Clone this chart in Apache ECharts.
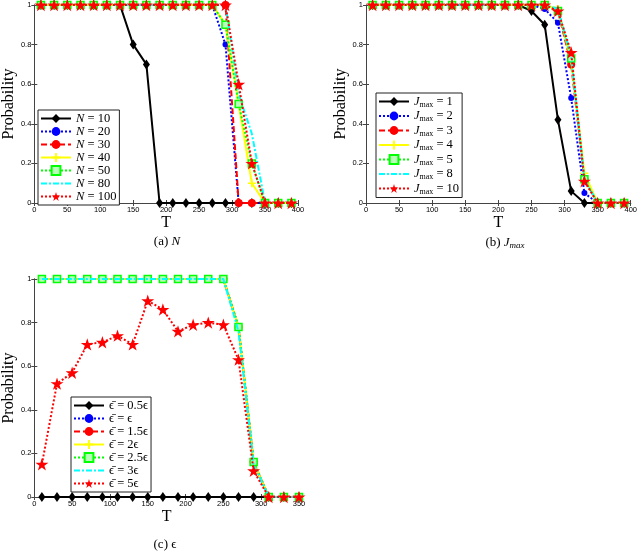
<!DOCTYPE html>
<html><head><meta charset="utf-8">
<script src="https://cdn.jsdelivr.net/npm/echarts@6/dist/echarts.min.js"></script>
<style>html,body{margin:0;padding:0;background:#fff}#c{width:640px;height:553px}</style>
</head><body><div id="c"></div>
<script>
// ---------- data ----------
const T_ab = [10,30,50,70,90,110,130,150,170,190,210,230,250,270,290,310,330,350,370,390];
const T_c  = [10,30,50,70,90,110,130,150,170,190,210,230,250,270,290,310,330,350];
const xTicksAB = [0,50,100,150,200,250,300,350,400];
const xTicksC  = [0,50,100,150,200,250,300,350];
const yTicks   = [0,0.2,0.4,0.6,0.8,1];

// (a) N
const namesA = ['N = 10','N = 20','N = 30','N = 40','N = 50','N = 80','N = 100'];
const a_N10  = [1,1,1,1,1,1,1,0.8,0.7,0,0,0,0,0,0,0,0,0,0,0];
const a_N20  = [1,1,1,1,1,1,1,1,1,1,1,1,1,1,0.8,0,0,0,0,0];
const a_N30  = [1,1,1,1,1,1,1,1,1,1,1,1,1,1,1,0,0,0,0,0];
const a_N40  = [1,1,1,1,1,1,1,1,1,1,1,1,1,1,0.9,0.5,0.1,0,0,0];
const a_N50  = [1,1,1,1,1,1,1,1,1,1,1,1,1,1,0.9,0.5,0.2,0,0,0];
const a_N80  = [1,1,1,1,1,1,1,1,1,1,1,1,1,1,1,0.55,0.35,0,0,0];
const a_N100 = [1,1,1,1,1,1,1,1,1,1,1,1,1,1,1,0.6,0.2,0,0,0];

// (b) Jmax
const namesB = ['Jmax = 1','Jmax = 2','Jmax = 3','Jmax = 4','Jmax = 5','Jmax = 8','Jmax = 10'];
const b_J1  = [1,1,1,1,1,1,1,1,1,1,1,1,0.97,0.9,0.42,0.06,0,0,0,0];
const b_J2  = [1,1,1,1,1,1,1,1,1,1,1,1,1,0.98,0.91,0.53,0.05,0,0,0];
const b_J3  = [1,1,1,1,1,1,1,1,1,1,1,1,1,1,0.97,0.70,0.12,0,0,0];
const b_J4  = [1,1,1,1,1,1,1,1,1,1,1,1,1,1,0.98,0.72,0.15,0,0,0];
const b_J5  = [1,1,1,1,1,1,1,1,1,1,1,1,1,1,0.97,0.73,0.12,0,0,0];
const b_J8  = [1,1,1,1,1,1,1,1,1,1,1,1,1,1,0.98,0.74,0.12,0,0,0];
const b_J10 = [1,1,1,1,1,1,1,1,1,1,1,1,1,1,0.97,0.76,0.11,0,0,0];

// (c) epsilon
const namesC = ['e = 0.5','e = 1','e = 1.5','e = 2','e = 2.5','e = 3','e = 5'];
const c_e05 = [0,0,0,0,0,0,0,0,0,0,0,0,0,0,0,0,0,0];
const c_e1  = [1,1,1,1,1,1,1,1,1,1,1,1,1,0.78,0.16,0,0,0];
const c_e15 = [1,1,1,1,1,1,1,1,1,1,1,1,1,0.78,0.16,0,0,0];
const c_e2  = [1,1,1,1,1,1,1,1,1,1,1,1,1,0.78,0.16,0,0,0];
const c_e25 = [1,1,1,1,1,1,1,1,1,1,1,1,1,0.78,0.16,0,0,0];
const c_e3  = [1,1,1,1,1,1,1,1,1,1,1,1,1,0.76,0.15,0,0,0];
const c_e5  = [0.15,0.52,0.57,0.70,0.71,0.74,0.70,0.90,0.86,0.76,0.79,0.80,0.79,0.63,0.12,0,0,0];

// ---------- styles ----------
const PLUS = 'path://M4,0H6V4H10V6H6V10H4V6H0V4H4Z';
const STAR = 'path://M50,0L61.8,36.2L100,36.2L69.1,58.8L80.9,95.1L50,72.7L19.1,95.1L30.9,58.8L0,36.2L38.2,36.2Z';
const styles = [
  {color:'#000000', dash:'solid', symbol:'diamond', size:[7,10]},
  {color:'#0000ff', dash:[2,2], symbol:'circle', size:6},
  {color:'#ff0000', dash:[6,3], symbol:'circle', size:8},
  {color:'#ffff00', dash:'solid', symbol:PLUS, size:8},
  {color:'#00ff00', dash:[2,2], symbol:'rect', size:7, fill:'#b8ffb8'},
  {color:'#00ffff', dash:[6,2,2,2], symbol:'none', size:0},
  {color:'#ff0000', dash:[2,2], symbol:STAR, size:13}
];

const SERIF = '"Liberation Serif","DejaVu Serif",serif';
const SANS = '"Liberation Sans",Arial,sans-serif';

function mkSeries(names, xs, arrs, gi) {
  return arrs.map((vals, k) => {
    const s = styles[k];
    return {
      name: names[k], type: 'line', xAxisIndex: gi*2, yAxisIndex: gi*2,
      data: xs.map((t, i) => [t, vals[i]]),
      symbol: s.symbol, symbolSize: s.size, symbolKeepAspect: true,
      showSymbol: s.symbol !== 'none',
      lineStyle: {color: s.color, width: 2, type: s.dash},
      itemStyle: {color: s.fill || s.color, borderColor: s.color, borderWidth: s.fill ? 1.5 : 0},
      emphasis: {disabled: true}, animation: false, z: 2 + k
    };
  });
}

const grids = [
  {left: 31, top: 5, width: 267, height: 198},
  {left: 366, top: 5, width: 267, height: 198},
  {left: 31, top: 279, width: 268, height: 218}
];

const axisLineS = {show: true, lineStyle: {color: '#444', width: 1}};
const tickS = {show: true, inside: true, length: 3, lineStyle: {color: '#444'}};
const xAxes = [], yAxes = [];
[xTicksAB, xTicksAB, xTicksC].forEach((xt, gi) => {
  const xmin = xt[0], xmax = xt[xt.length-1];
  xAxes.push({type:'value', gridIndex: gi, min: xmin, max: xmax, interval: 50, position:'bottom',
    axisLine: axisLineS, axisTick: tickS, splitLine:{show:false},
    axisLabel:{fontSize: 7.5, fontFamily: SANS, color:'#000', margin: 3},
    name: 'T', nameLocation: 'middle', nameGap: 8,
    nameTextStyle: {fontFamily: SERIF, fontSize: 16, color: '#000', verticalAlign: 'top'}});
  xAxes.push({type:'value', gridIndex: gi, min: xmin, max: xmax, interval: 50, position:'top',
    axisLine: axisLineS, axisTick: tickS, splitLine:{show:false}, axisLabel:{show:false}});
  yAxes.push({type:'value', gridIndex: gi, min: yTicks[0], max: yTicks[yTicks.length-1], interval: 0.2, position:'left',
    axisLine: axisLineS, axisTick: tickS, splitLine:{show:false},
    axisLabel:{fontSize: 7.5, fontFamily: SANS, color:'#000', margin: 3},
    name: 'Probability', nameLocation: 'middle', nameGap: 15,
    nameTextStyle: {fontFamily: SERIF, fontSize: 16, color: '#000'}});
  yAxes.push({type:'value', gridIndex: gi, min: yTicks[0], max: yTicks[yTicks.length-1], interval: 0.2, position:'right',
    axisLine: axisLineS, axisTick: tickS, splitLine:{show:false}, axisLabel:{show:false}});
});

const series = [].concat(
  mkSeries(namesA, T_ab, [a_N10,a_N20,a_N30,a_N40,a_N50,a_N80,a_N100], 0),
  mkSeries(namesB, T_ab, [b_J1,b_J2,b_J3,b_J4,b_J5,b_J8,b_J10], 1),
  mkSeries(namesC, T_c,  [c_e05,c_e1,c_e15,c_e2,c_e25,c_e3,c_e5], 2)
);

const EPS = '\u03F5';
const EPSBAR = '\u03F5\u0304';
function legendFmt(name) {
  if (name.startsWith('N')) return '{i|N} = ' + name.split('= ')[1];
  if (name.startsWith('Jmax')) return '{i|J}{s|max} = ' + name.split('= ')[1];
  const v = name.split('= ')[1];
  return EPSBAR + ' = ' + (v === '1' ? '' : v) + EPS;
}
const richS = {
  i: {fontStyle: 'italic', fontFamily: SERIF, fontSize: 12.5, color: '#000'},
  s: {fontFamily: SERIF, fontSize: 8, color: '#000', padding: [6,0,0,0]}
};
function mkLegend(names, left, top, gap) {
  return {
    data: names.map((n, k) => styles[k].symbol === 'none'
      ? {name: n, itemStyle: {opacity: 0}, lineStyle: {opacity: 1}} : {name: n}),
    orient: 'vertical', left: left, top: top,
    itemWidth: 30, itemHeight: 11, itemGap: gap,
    padding: [2, 3, 2, 2],
    backgroundColor: '#fff', borderColor: '#222', borderWidth: 1,
    formatter: legendFmt, selectedMode: false,
    textStyle: {fontFamily: SERIF, fontSize: 12.5, color: '#000', rich: richS}
  };
}

const option = {
  animation: false,
  backgroundColor: '#fff',
  grid: grids,
  xAxis: xAxes, yAxis: yAxes,
  legend: [
    mkLegend(namesA, 38, 110, 0),
    mkLegend(namesB, 376, 93, 1),
    mkLegend(namesC, 71, 397, 0)
  ],
  title: [
    {text: '(a) {i|N}', left: 162, top: 230, textAlign: 'center',
     textStyle: {fontFamily: SERIF, fontSize: 13, fontWeight: 'normal', color: '#000', rich: {i:{fontStyle:'italic', fontFamily: SERIF, fontSize: 13}}}},
    {text: '(b) {i|J}{s|max}', left: 500, top: 230, textAlign: 'center',
     textStyle: {fontFamily: SERIF, fontSize: 13, fontWeight: 'normal', color: '#000', rich: {i:{fontStyle:'italic', fontFamily: SERIF, fontSize: 13}, s:{fontStyle:'italic', fontFamily: SERIF, fontSize: 9, padding:[6,0,0,0]}}}},
    {text: '(c) ' + EPS, left: 160, top: 533, textAlign: 'center',
     textStyle: {fontFamily: SERIF, fontSize: 13, fontWeight: 'normal', color: '#000'}}
  ],
  series: series
};

const chart = echarts.init(document.getElementById('c'), null, {renderer: 'canvas'});
chart.setOption(option);
</script></body></html>
